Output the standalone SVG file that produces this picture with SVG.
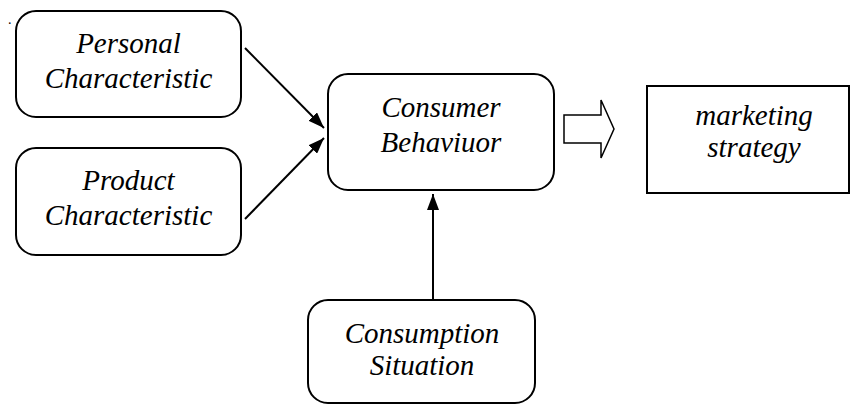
<svg xmlns="http://www.w3.org/2000/svg" width="851" height="405" viewBox="0 0 851 405">
<style>
.box{fill:#fff;stroke:#000;stroke-width:2}
.t{font-style:italic;font-size:29px;text-anchor:middle;fill:#000}
.ln{stroke:#000;stroke-width:2;fill:none}
</style>
<defs>
<marker id="ah" viewBox="0 0 16 12" refX="16" refY="6" markerWidth="16" markerHeight="12" markerUnits="userSpaceOnUse" orient="auto">
<path d="M0,0 L16,6 L0,12 Z" fill="#000"/>
</marker>
</defs>
<rect width="851" height="405" fill="#fff"/>
<g font-family="Liberation Serif, serif">
<text x="8" y="24" font-size="14">.</text>
<g id="personal">
<rect class="box" x="16" y="11" width="225" height="106" rx="20"/>
<text class="t" x="128.5" y="53">Personal</text>
<text class="t" x="128.5" y="88">Characteristic</text>
</g>
<g id="product">
<rect class="box" x="16" y="148" width="225" height="107" rx="20"/>
<text class="t" x="128.5" y="190">Product</text>
<text class="t" x="128.5" y="225">Characteristic</text>
</g>
<g id="consumer">
<rect class="box" x="328" y="74" width="226" height="116" rx="20"/>
<text class="t" x="441" y="117">Consumer</text>
<text class="t" x="441" y="152">Behaviuor</text>
</g>
<g id="marketing">
<rect class="box" x="647" y="86" width="202" height="107"/>
<text class="t" x="754" y="125" font-size="28">marketing</text>
<text class="t" x="754" y="157" font-size="28">strategy</text>
</g>
<g id="situation">
<rect class="box" x="308" y="300" width="227" height="103" rx="20"/>
<text class="t" x="422" y="343">Consumption</text>
<text class="t" x="422" y="375">Situation</text>
</g>
</g>
<g id="connectors">
<line class="ln" x1="245" y1="48" x2="324" y2="128" marker-end="url(#ah)"/>
<line class="ln" x1="245" y1="219" x2="324" y2="138" marker-end="url(#ah)"/>
<line class="ln" x1="433" y1="300" x2="433" y2="194" marker-end="url(#ah)"/>
<path d="M564,115 L601,115 L601,100 L614,129 L601,158 L601,143 L564,143 Z" fill="#fff" stroke="#000" stroke-width="1.5"/>
</g>
</svg>
